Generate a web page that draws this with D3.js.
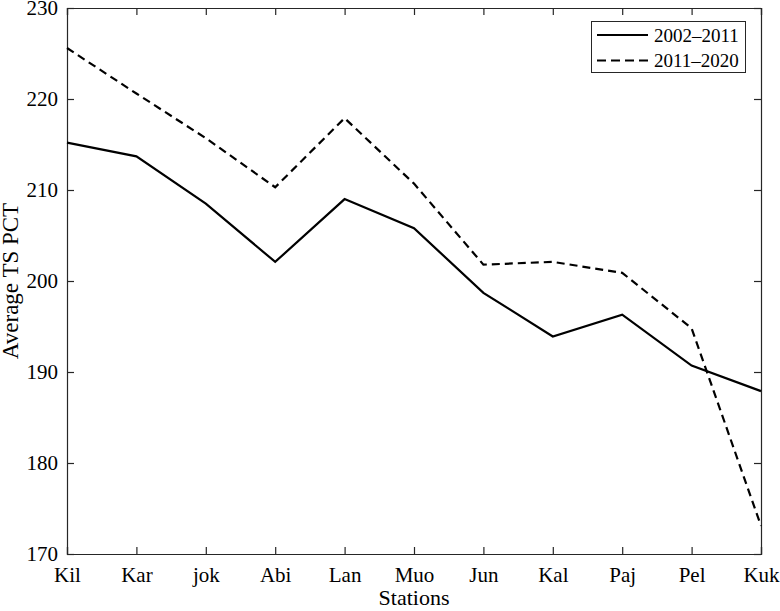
<!DOCTYPE html>
<html>
<head>
<meta charset="utf-8">
<script src="https://cdn.jsdelivr.net/npm/d3@7"></script>
<style>
  html, body { margin: 0; padding: 0; background: #fff; }
  svg { display: block; }
  text { font-family: "Liberation Serif", "Times New Roman", serif; fill: #000; }
</style>
</head>
<body>
<svg id="chart" width="780" height="611"></svg>
<script>
const stations = ["Kil", "Kar", "jok", "Abi", "Lan", "Muo", "Jun", "Kal", "Paj", "Pel", "Kuk"];
const series2002_2011 = [215.2, 213.7, 208.5, 202.1, 209.0, 205.8, 198.7, 193.9, 196.3, 190.7, 187.9];
const series2011_2020 = [225.6, 220.6, 215.7, 210.3, 217.9, 210.7, 201.8, 202.1, 200.9, 194.8, 173.1];
const yTicks = [170, 180, 190, 200, 210, 220, 230];
const seriesNames = ["2002\u20132011", "2011\u20132020"];

const svg = d3.select("#chart");
const margin = { left: 67, top: 8, right: 19, bottom: 57 };
const W = 780, H = 611;
const x0 = margin.left, x1 = W - margin.right, y0 = margin.top, y1 = H - margin.bottom;

const x = d3.scalePoint().domain(stations).range([x0, x1]).padding(0);
const y = d3.scaleLinear().domain([170, 230]).range([y1, y0]);

const tickLen = 7;
const axisColor = "#262626";

const gx = svg.append("g").attr("transform", `translate(0,${y1})`)
  .call(d3.axisBottom(x).tickSize(-tickLen));
const gxt = svg.append("g").attr("transform", `translate(0,${y0})`)
  .call(d3.axisTop(x).tickSize(-tickLen).tickFormat(""));
const gy = svg.append("g").attr("transform", `translate(${x0},0)`)
  .call(d3.axisLeft(y).tickValues(yTicks).tickSize(-tickLen));
const gyr = svg.append("g").attr("transform", `translate(${x1},0)`)
  .call(d3.axisRight(y).tickValues(yTicks).tickSize(-tickLen).tickFormat(""));

[gx, gxt, gy, gyr].forEach(g => {
  g.selectAll("path.domain").attr("stroke", axisColor).attr("stroke-width", 1.2);
  g.selectAll(".tick line").attr("stroke", axisColor).attr("stroke-width", 1.2);
  g.selectAll(".tick text").attr("font-family", "Liberation Serif").attr("font-size", 21).attr("fill", "#000");
});
gx.selectAll(".tick text").attr("dy", null).attr("y", 28);
gy.selectAll(".tick text").attr("x", -9).attr("dy", "0.33em");

const line = d3.line().x((d, i) => x(stations[i])).y(d => y(d));
svg.append("path").datum(series2002_2011)
  .attr("d", line).attr("fill", "none").attr("stroke", "#000").attr("stroke-width", 2.2);
svg.append("path").datum(series2011_2020)
  .attr("d", line).attr("fill", "none").attr("stroke", "#000").attr("stroke-width", 2.2)
  .attr("stroke-dasharray", "8,5");

svg.append("text").attr("x", (x0 + x1) / 2).attr("y", 605)
  .attr("text-anchor", "middle").attr("font-size", 22).text("Stations");
svg.append("text").attr("transform", `translate(18,${(y0 + y1) / 2}) rotate(-90)`)
  .attr("text-anchor", "middle").attr("font-size", 23).text("Average TS PCT");

const lg = svg.append("g");
lg.append("rect").attr("x", 591.5).attr("y", 21.5).attr("width", 154).attr("height", 51)
  .attr("fill", "#fff").attr("stroke", axisColor).attr("stroke-width", 1);
const dashes = [null, "9,5"];
seriesNames.forEach((name, i) => {
  const ly = 35 + i * 25.5;
  lg.append("line").attr("x1", 597).attr("x2", 648).attr("y1", ly).attr("y2", ly)
    .attr("stroke", "#000").attr("stroke-width", 2.2)
    .attr("stroke-dasharray", dashes[i]);
  lg.append("text").attr("x", 654).attr("y", ly).attr("dy", "0.35em")
    .attr("font-size", 19).text(name);
});
</script>
</body>
</html>
